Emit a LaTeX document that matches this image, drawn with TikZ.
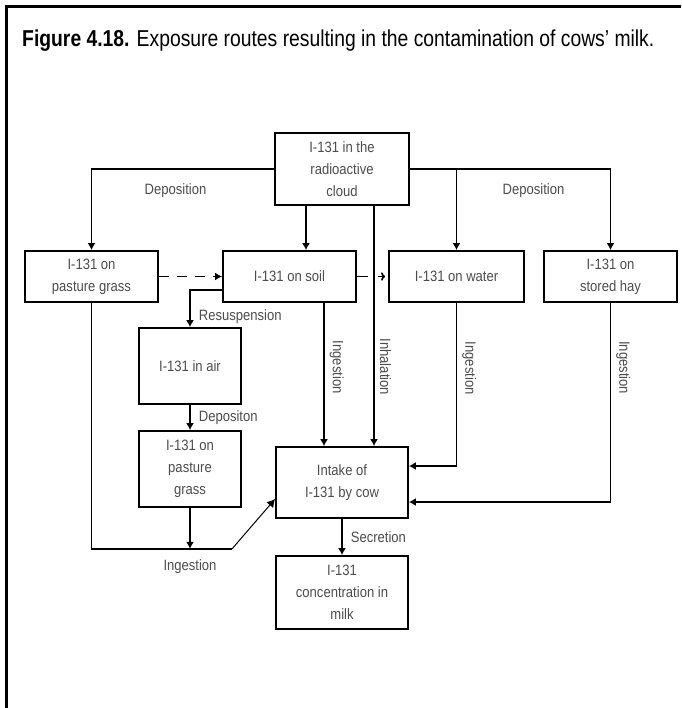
\documentclass[tikz,border=0pt]{standalone}
\usepackage{fontspec}
\setmainfont{Liberation Sans}
\newfontfamily\boxfont{Liberation Sans}[FakeStretch=0.87]
\newfontfamily\titlefont{Liberation Sans}[FakeStretch=0.84]
\usetikzlibrary{arrows.meta}

\begin{document}
\begin{tikzpicture}[x=1pt,y=-1pt,
  stage/.style={draw,line width=1.8pt,align=center,inner sep=0pt,text=black!70,
    font=\boxfont\fontsize{15}{22}\selectfont},
  route/.style={line width=1.7pt,-{Latex[length=7pt,width=8pt]}},
  tag/.style={text=black!70,inner sep=2pt,font=\boxfont\fontsize{15}{18}\selectfont},
  vtag/.style={tag,rotate=-90,anchor=south,inner sep=5pt}]
  \useasboundingbox (0,0) rectangle (681,708);
  \draw[line width=3pt] (6,708) -- (6,6.5) -- (681,6.5);
  \node[anchor=base west,inner sep=0pt,font=\titlefont\fontsize{23}{27}\selectfont] (title)
    at (22,47) {\textbf{Figure 4.18.} Exposure routes resulting in the contamination of cows’ milk.};
  \node[stage,minimum width=134,minimum height=72] (cloud) at (342,169) {I-131 in the\\radioactive\\cloud};
  \node[stage,minimum width=133,minimum height=51] (pasture) at (91.5,276.5) {I-131 on\\pasture grass};
  \node[stage,minimum width=133,minimum height=51] (soil) at (289.5,276.5) {I-131 on soil};
  \node[stage,minimum width=135,minimum height=51] (water) at (456.5,276.5) {I-131 on water};
  \node[stage,minimum width=133,minimum height=51] (hay) at (610.5,276.5) {I-131 on\\stored hay};
  \node[stage,minimum width=102,minimum height=76] (air) at (190,366) {I-131 in air};
  \node[stage,minimum width=102,minimum height=76] (grass) at (190,469) {I-131 on\\pasture\\grass};
  \node[stage,minimum width=132,minimum height=71] (intake) at (342,482.5) {Intake of\\I-131 by cow};
  \node[stage,minimum width=132,minimum height=73] (milk) at (342,592.5) {I-131\\concentration in\\milk};
  \draw[route] (cloud.west) -| (pasture.north) node[tag,pos=0.27,below=12pt] {Deposition};
  \draw[route] ([xshift=-36pt]cloud.south) -- ([xshift=-36pt]cloud.south |- soil.north);
  \draw[route] ([xshift=32pt]cloud.south) -- ([xshift=32pt]cloud.south |- intake.north)
    node[vtag,pos=0.67] {Inhalation};
  \draw[route] (cloud.east) -| (hay.north);
  \draw[route] (water.north |- cloud.east) -- (water.north);
  \path (water.north |- cloud.east) -- (hay.north |- cloud.east) node[tag,midway,below=12pt] {Deposition};
  \draw[route,dash pattern=on 10pt off 8pt] (pasture.east) -- (soil.west);
  \draw[line width=1.7pt] (soil.east) -- ++(11,0);
  \draw[line width=1.7pt,-{To[length=4pt]}] ([xshift=-10pt]water.west) -- ([xshift=-3pt]water.west);
  \draw[route] ([yshift=-13.5pt]soil.west) -| (air.north) node[tag,pos=0.855,right=6pt] {Resuspension};
  \draw[route] ([xshift=34.5pt]soil.south) -- ([xshift=34.5pt]soil.south |- intake.north)
    node[vtag,pos=0.45] {Ingestion};
  \draw[route] (air.south) -- (grass.north) node[tag,midway,right=6pt] {Depositon};
  \coordinate (bend) at ([xshift=42pt,yshift=-41pt]grass.south);
  \draw[line width=1.7pt] (pasture.south) |- (bend);
  \draw[route] (grass.south) -- (grass.south |- bend) node[tag,below=8pt] {Ingestion};
  \draw[line width=1pt,-{Latex[length=8pt,width=9pt]}] (bend) -- ([yshift=-16.5pt]intake.west);
  \draw[route] (water.south) |- ([yshift=16.5pt]intake.east) node[vtag,pos=0.2] {Ingestion};
  \draw[route] (hay.south) |- ([yshift=-19.5pt]intake.east) node[vtag,pos=0.1625] {Ingestion};
  \draw[route] (intake.south) -- (milk.north) node[tag,midway,right=6pt] {Secretion};
\end{tikzpicture}
\end{document}
